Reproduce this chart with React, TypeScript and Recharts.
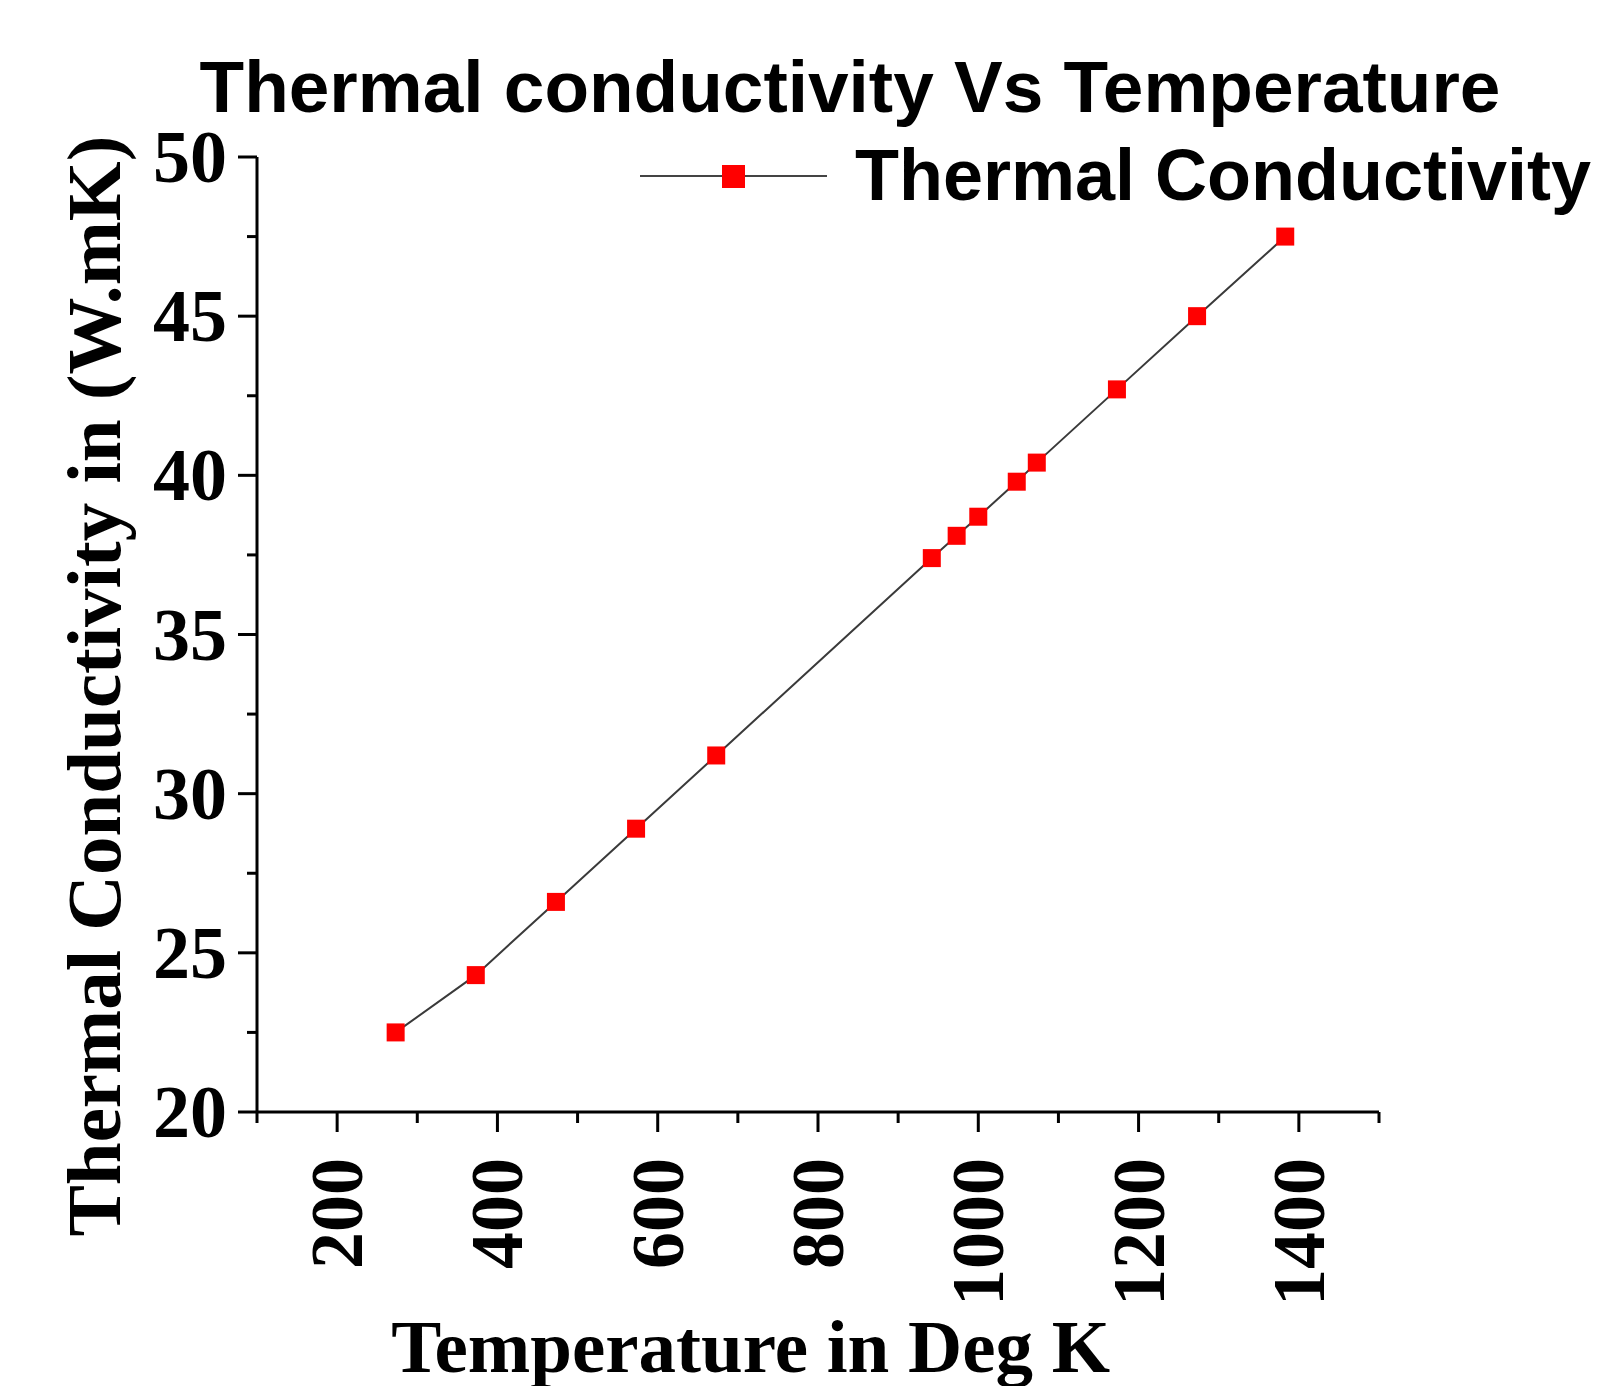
import { LineChart, Line, XAxis, YAxis, Legend, Label } from "recharts";

const temperatures = [273, 373, 473, 573, 673, 942, 973, 1000, 1048, 1073, 1173, 1273, 1383];
const conductivity = [22.5, 24.3, 26.6, 28.9, 31.2, 37.4, 38.1, 38.7, 39.8, 40.4, 42.7, 45.0, 47.5];
const xTicks = [100, 200, 300, 400, 500, 600, 700, 800, 900, 1000, 1100, 1200, 1300, 1400, 1500];
const yTicks = [20, 22.5, 25, 27.5, 30, 32.5, 35, 37.5, 40, 42.5, 45, 47.5, 50];

const data = temperatures.map((t, i) => ({ temp: t, k: conductivity[i] }));

const serif = "'Liberation Serif', 'Times New Roman', serif";
const sans = "'Liberation Sans', Arial, sans-serif";

function XTick(props: any) {
  const { x, y, payload } = props;
  const major = payload.value % 200 === 0;
  return (
    <g>
      <line x1={x} x2={x} y1={y} y2={y + (major ? 20 : 11)} stroke="#000" strokeWidth={3} />
      {major && (
        <text
          x={x + 25}
          y={y + 46}
          transform={`rotate(-90, ${x + 25}, ${y + 46})`}
          textAnchor="end"
          fontFamily={serif}
          fontWeight="bold"
          fontSize={74}
          fill="#000"
        >
          {payload.value}
        </text>
      )}
    </g>
  );
}

function YTick(props: any) {
  const { x, y, payload } = props;
  const major = payload.value % 5 === 0;
  return (
    <g>
      <line x1={x} x2={x - (major ? 19 : 10)} y1={y} y2={y} stroke="#000" strokeWidth={3} />
      {major && (
        <text
          x={x - 30}
          y={y}
          dy="0.34em"
          textAnchor="end"
          fontFamily={serif}
          fontWeight="bold"
          fontSize={74}
          fill="#000"
        >
          {payload.value}
        </text>
      )}
    </g>
  );
}

function SquareDot(props: any) {
  const { cx, cy, index } = props;
  return <rect key={`dot-${index}`} x={cx - 9} y={cy - 9} width={18} height={18} fill="#ff0000" />;
}

function LegendBox() {
  return (
    <svg width={960} height={90} style={{ display: "block", overflow: "visible" }}>
      <line x1={0} x2={187} y1={46} y2={46} stroke="#444" strokeWidth={2} />
      <rect x={82} y={35} width={23} height={23} fill="#ff0000" />
      <text x={215} y={70} fontFamily={sans} fontWeight="bold" fontSize={72} fill="#000">
        Thermal Conductivity
      </text>
    </svg>
  );
}

function XLabel(props: any) {
  const vb = props.viewBox;
  return (
    <text
      x={vb.x + vb.width * 0.44}
      y={vb.y + 260}
      textAnchor="middle"
      fontFamily={serif}
      fontWeight="bold"
      fontSize={75}
      fill="#000"
    >
      Temperature in Deg K
    </text>
  );
}

function YLabel(props: any) {
  const vb = props.viewBox;
  const cx = vb.x - 37;
  const cy = vb.y + vb.height * 0.554;
  return (
    <text
      x={cx}
      y={cy}
      transform={`rotate(-90, ${cx}, ${cy})`}
      textAnchor="middle"
      fontFamily={serif}
      fontWeight="bold"
      fontSize={77}
      fill="#000"
    >
      Thermal Conductivity in (W.mK)
    </text>
  );
}

export default function App() {
  return (
    <div style={{ position: "relative", width: 1584, height: 1386, marginBottom: -8 }}>
      <svg width={1584} height={140} style={{ position: "absolute", left: 0, top: 0, pointerEvents: "none" }}>
        <text x={842} y={104} textAnchor="middle" fontFamily={sans} fontWeight="bold" fontSize={73} fill="#000">
          Thermal conductivity Vs Temperature
        </text>
      </svg>
      <LineChart
        width={1584}
        height={1386}
        data={data}
        margin={{ top: 149, right: 213, bottom: 182, left: 149 }}
      >
        <XAxis
          dataKey="temp"
          type="number"
          domain={[100, 1500]}
          ticks={xTicks}
          interval={0}
          height={100}
          tickSize={0}
          tickMargin={0}
          tickLine={false}
          axisLine={{ stroke: "#000", strokeWidth: 3 }}
          tick={<XTick />}
        >
          <Label content={<XLabel />} />
        </XAxis>
        <YAxis
          type="number"
          domain={[20, 50]}
          ticks={yTicks}
          interval={0}
          width={100}
          tickSize={0}
          tickMargin={0}
          tickLine={false}
          axisLine={{ stroke: "#000", strokeWidth: 3 }}
          tick={<YTick />}
        >
          <Label content={<YLabel />} />
        </YAxis>
        <Legend
          layout="horizontal"
          verticalAlign="middle"
          align="center"
          wrapperStyle={{ top: 122, left: 632, width: 960, height: 90 }}
          content={<LegendBox />}
        />
        <Line
          dataKey="k"
          name="Thermal Conductivity"
          stroke="#3a3a3a"
          strokeWidth={2}
          dot={<SquareDot />}
          activeDot={false}
          isAnimationActive={false}
        />
      </LineChart>
    </div>
  );
}
